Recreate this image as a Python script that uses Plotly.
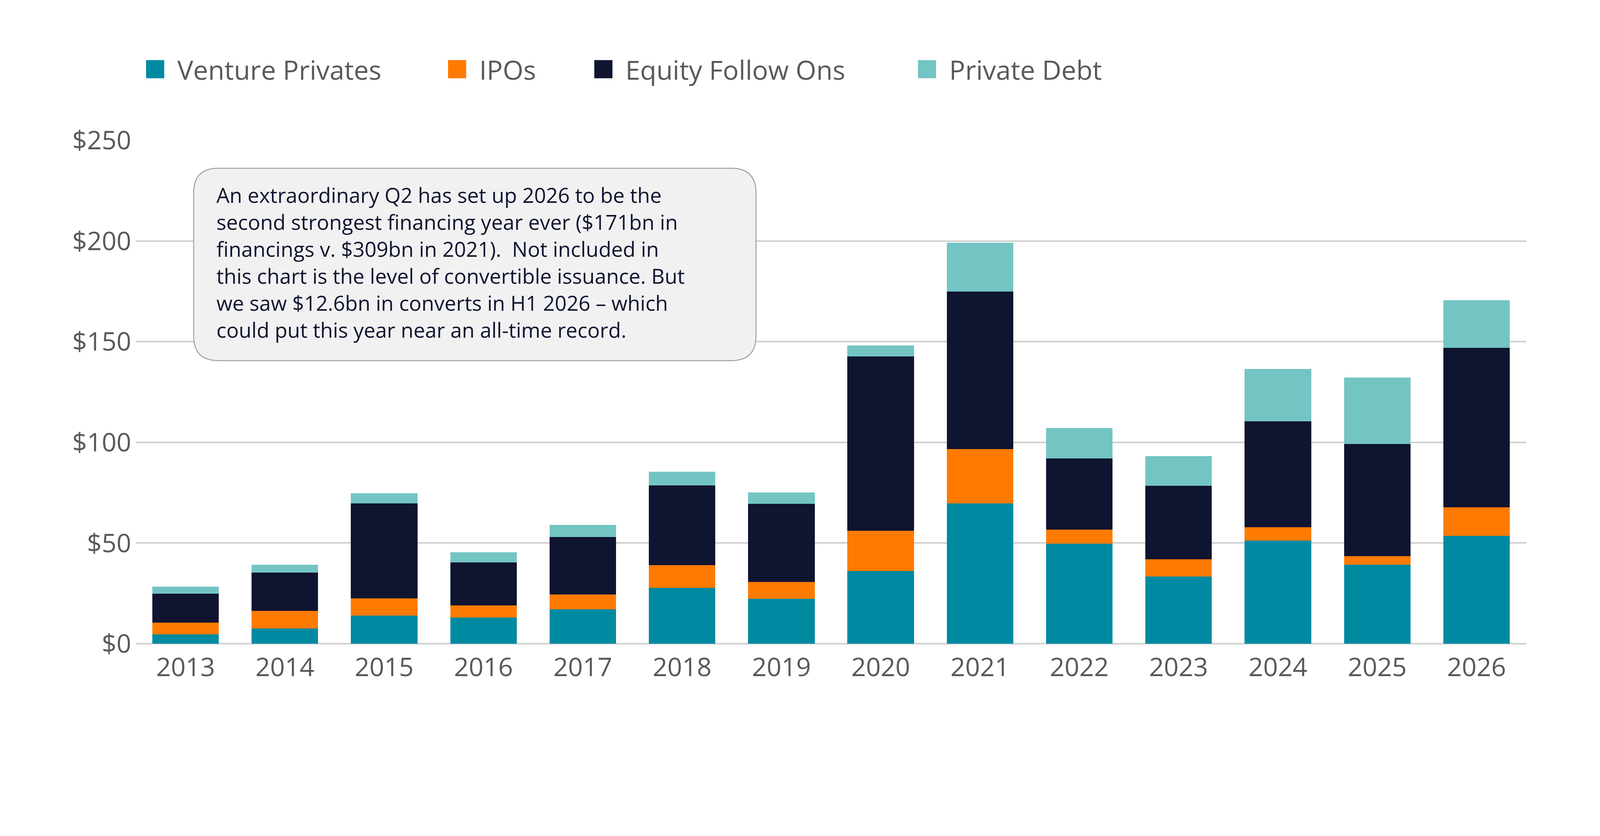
import plotly.graph_objects as go

years = ["2013", "2014", "2015", "2016", "2017", "2018", "2019",
         "2020", "2021", "2022", "2023", "2024", "2025", "2026"]

# $bn
venture_privates = [4.7, 7.5, 13.9, 13.1, 17.1, 27.7, 22.3, 36.2, 69.7, 49.7, 33.3, 51.3, 39.2, 53.5]
ipos = [5.7, 8.9, 8.7, 5.9, 7.4, 11.4, 8.3, 19.9, 26.9, 6.9, 8.6, 6.6, 4.2, 14.2]
equity_follow_ons = [14.5, 18.9, 47.0, 21.3, 28.5, 39.5, 38.8, 86.6, 78.3, 35.4, 36.6, 52.6, 55.7, 79.3]
private_debt = [3.4, 3.9, 5.1, 5.2, 6.1, 6.8, 5.8, 5.4, 24.3, 15.2, 14.6, 26.0, 33.1, 23.7]

series_names = ["Venture Privates", "IPOs", "Equity Follow Ons", "Private Debt"]
series_colors = ["#008aa1", "#ff7a00", "#0f1430", "#73c5c3"]

tick_vals = [0, 50, 100, 150, 200, 250]
tick_text = ["$0", "$50", "$100", "$150", "$200", "$250"]

note = ("An extraordinary Q2 has set up 2026 to be the<br>"
        "second strongest financing year ever ($171bn in<br>"
        "financings v. $309bn in 2021).  Not included in<br>"
        "this chart is the level of convertible issuance. But<br>"
        "we saw $12.6bn in converts in H1 2026 \u2013 which<br>"
        "could put this year near an all-time record.")

FONT = "Open Sans"
GREY = "#595959"

fig = go.Figure()
for name, vals, col in zip(series_names, [venture_privates, ipos, equity_follow_ons, private_debt], series_colors):
    fig.add_trace(go.Bar(x=years, y=vals, name=name, marker_color=col,
                         marker_line_width=0, showlegend=False))

# legend drawn by hand so the swatches can be big squares
legend_x = [0.0073, 0.2245, 0.3297, 0.5625]
sw = 0.01305
for lx, name, col in zip(legend_x, series_names, series_colors):
    fig.add_shape(type="rect", xref="paper", yref="paper",
                  x0=lx, x1=lx + sw, y0=1.1233, y1=1.1593,
                  fillcolor=col, line_width=0)
    fig.add_annotation(x=lx + 0.0218, y=1.1413, xref="paper", yref="paper",
                       text=name, showarrow=False, xanchor="left", yanchor="middle",
                       font=dict(family=FONT, size=68, color=GREY))

# rounded note box
x0, x1, y0, y1 = 0.0415, 0.4460, 0.5624, 0.9445
rx, ry = 0.01775, 0.049
path = (f"M {x0+rx},{y1} L {x1-rx},{y1} Q {x1},{y1} {x1},{y1-ry} "
        f"L {x1},{y0+ry} Q {x1},{y0} {x1-rx},{y0} L {x0+rx},{y0} "
        f"Q {x0},{y0} {x0},{y0+ry} L {x0},{y1-ry} Q {x0},{y1} {x0+rx},{y1} Z")
fig.add_shape(type="path", xref="paper", yref="paper", path=path,
              fillcolor="#f1f1f1", line=dict(color="#a0a0a0", width=2.5))
fig.add_annotation(x=0.0574, y=0.7581, xref="paper", yref="paper", text=note,
                   showarrow=False, xanchor="left", yanchor="middle", align="left",
                   font=dict(family=FONT, size=53, color="#0f1430"))

fig.update_layout(
    barmode="stack",
    bargap=0.33,
    width=4070, height=1960,
    margin=dict(l=340, r=171, t=351, b=321),
    paper_bgcolor="white", plot_bgcolor="white",
    font=dict(family=FONT, color=GREY),
    xaxis=dict(tickfont=dict(size=66, color=GREY), showgrid=False,
               showline=False, ticks="", ticklabelstandoff=16),
    yaxis=dict(range=[0, 250], tickvals=tick_vals, ticktext=tick_text,
               tickfont=dict(size=66, color=GREY),
               showgrid=True, gridcolor="#d0d0d0", gridwidth=3.7,
               zeroline=True, zerolinecolor="#d0d0d0", zerolinewidth=3.7,
               ticks="", ticklabelstandoff=11),
)

fig.write_html("out.html")
